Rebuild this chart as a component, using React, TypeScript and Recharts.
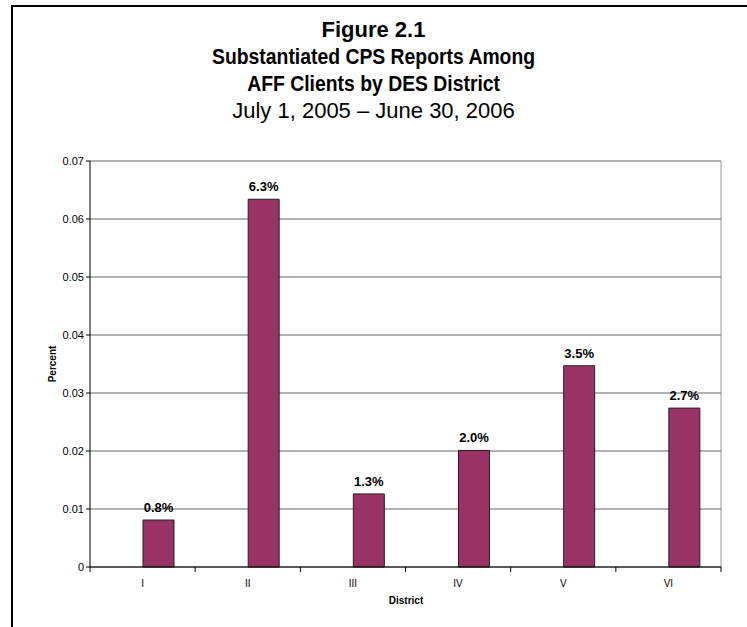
import React from "react";
import {
  Bar,
  BarChart,
  CartesianGrid,
  LabelList,
  ReferenceLine,
  XAxis,
  YAxis,
} from "recharts";

// districts and substantiated CPS report rates (share of AFF clients)
const districts = ["I", "II", "III", "IV", "V", "VI"];
const rates = [0.0081, 0.0634, 0.0126, 0.0201, 0.0347, 0.0274];
const yTicks = [0, 0.01, 0.02, 0.03, 0.04, 0.05, 0.06, 0.07];

const titleLines = [
  "Figure 2.1",
  "Substantiated CPS Reports Among",
  "AFF Clients by DES District",
];
const subtitle = "July 1, 2005 \u2013 June 30, 2006";

// each district sits in the middle of its own slot on a 0..6 scale
const data = districts.map((d, i) => ({ district: d, slot: i + 0.5, rate: rates[i] }));
const xTicks = [0, ...districts.flatMap((_, i) => [i + 0.5, i + 1])];

const FONT = '"Liberation Sans", Arial, sans-serif';
const W = 747;
const H = 627;

const DistrictTick = (props: any) => {
  const { x, y, payload } = props;
  const v = payload.value;
  if (Number.isInteger(v)) {
    return <line x1={x} x2={x} y1={y} y2={y + 5} stroke="#000" />;
  }
  const idx = Math.floor(v);
  return (
    <text x={x} y={y + 20} textAnchor="middle" fontSize={10} fontFamily={FONT} fill="#000">
      {districts[idx]}
    </text>
  );
};

export default function App() {
  return (
    <div
      style={{
        position: "absolute",
        left: 0,
        top: 0,
        width: W,
        height: H,
        overflow: "hidden",
        background: "#fff",
        fontFamily: FONT,
      }}
    >
      <div
        style={{
          position: "absolute",
          left: 11,
          top: 5,
          width: W + 40,
          height: H + 40,
          borderLeft: "2px solid #000",
          borderTop: "2px solid #000",
        }}
      />
      <div
        style={{
          position: "absolute",
          left: 0,
          top: 16,
          width: W,
          textAlign: "center",
          fontSize: 22,
          lineHeight: "27px",
          color: "#000",
        }}
      >
        {titleLines.map((t, i) => (
          <div key={t} style={{ fontWeight: "bold" }}>
            <span
              style={{
                display: "inline-block",
                transform: i === 0 ? "none" : "scaleX(0.88)",
              }}
            >
              {t}
            </span>
          </div>
        ))}
        <div>{subtitle}</div>
      </div>

      <BarChart
        width={W}
        height={H}
        data={data}
        margin={{ top: 161, right: 26, bottom: 40, left: 30 }}
        barGap={0}
        style={{ position: "absolute", left: 0, top: 0 }}
      >
        <CartesianGrid vertical={false} stroke="#666" />
        <XAxis
          dataKey="slot"
          type="number"
          domain={[0, 6]}
          ticks={xTicks}
          interval={0}
          tickLine={false}
          tickSize={0}
          tickMargin={0}
          height={20}
          axisLine={{ stroke: "#000" }}
          tick={<DistrictTick />}
        />
        <YAxis
          domain={[0, 0.07]}
          ticks={yTicks}
          interval={0}
          width={60}
          tickSize={4}
          tickMargin={2}
          axisLine={{ stroke: "#000" }}
          tickLine={{ stroke: "#000" }}
          tick={{ fontSize: 11, fill: "#000", fontFamily: FONT }}
          tickFormatter={(v: number) => String(v)}
        />
        <ReferenceLine x={6} stroke="#999" />
        <Bar dataKey="none" barSize={31} isAnimationActive={false} />
        <Bar
          dataKey="rate"
          barSize={31}
          fill="#993366"
          stroke="#222"
          strokeWidth={1}
          isAnimationActive={false}
        >
          <LabelList
            dataKey="rate"
            position="top"
            offset={8}
            formatter={(v: any) => `${(Number(v) * 100).toFixed(1)}%`}
            style={{ fontSize: 13, fontWeight: "bold", fill: "#000", fontFamily: FONT }}
          />
        </Bar>
      </BarChart>

      <div
        style={{
          position: "absolute",
          left: 52,
          top: 364,
          transform: "translate(-50%, -50%) rotate(-90deg)",
          fontSize: 10,
          fontWeight: "bold",
          whiteSpace: "nowrap",
        }}
      >
        Percent
      </div>
      <div
        style={{
          position: "absolute",
          left: 406,
          top: 600,
          transform: "translate(-50%, -50%)",
          fontSize: 10,
          fontWeight: "bold",
          whiteSpace: "nowrap",
        }}
      >
        District
      </div>
    </div>
  );
}
